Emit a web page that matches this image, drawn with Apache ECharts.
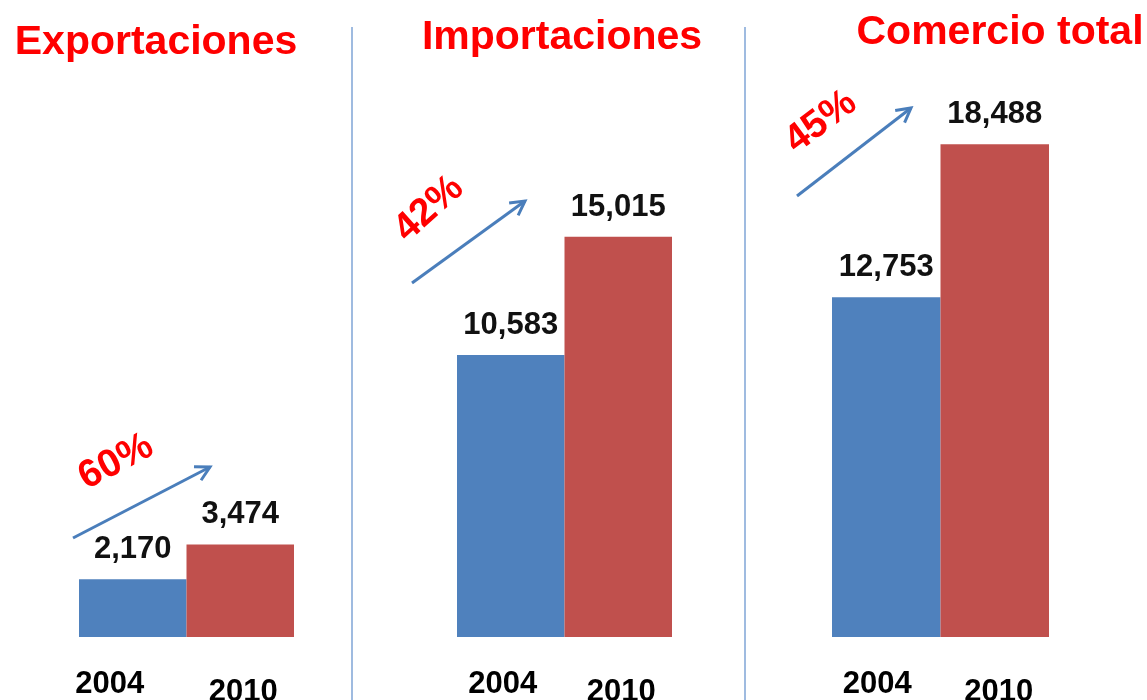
<!DOCTYPE html>
<html>
<head>
<meta charset="utf-8">
<script src="https://cdn.jsdelivr.net/npm/echarts@6/dist/echarts.min.js"></script>
<style>
  html, body { margin: 0; padding: 0; background: #fff; }
  #chart { width: 1147px; height: 700px; }
</style>
</head>
<body>
<div id="chart"></div>
<script>
const years = ['2004', '2010'];
const titles = ['Exportaciones', 'Importaciones', 'Comercio total'];
const exportaciones = [2170, 3474];
const importaciones = [10583, 15015];
const comercioTotal = [12753, 18488];
const growth = ['60%', '42%', '45%'];

const panelValues = [exportaciones, importaciones, comercioTotal];
const barColors = ['#4f81bd', '#c0504d'];

// layout of the three panels (pixels)
const panels = [
    { left: 79, width: 215, titleX: 151, titleTop: 17, yearShift: [-23, 3] },
    { left: 457, width: 215, titleX: 557, titleTop: 12, yearShift: [-8, 3] },
    { left: 832, width: 217, titleX: 995, titleTop: 7, yearShift: [-9, 4] }
];
const arrows = [
    { from: [73, 538], to: [210, 467], text: [116, 462], rot: 28 },
    { from: [412, 283], to: [525, 201], text: [429, 209], rot: 42 },
    { from: [797, 196], to: [911, 108], text: [821, 122], rot: 37 }
];

const numFont = 'Liberation Sans';

var grids = [], xAxes = [], yAxes = [], series = [], titleOpts = [];
panels.forEach((p, i) => {
    grids.push({
        left: p.left, width: p.width, top: 104, height: 533,
        containLabel: false, outerBoundsMode: 'none'
    });
    xAxes.push({
        type: 'category',
        gridIndex: i,
        data: years.map((y, k) => ({
            value: y,
            textStyle: {
                padding: p.yearShift[k] < 0 ? [0, -2 * p.yearShift[k], 0, 0] : [k ? 8 : 0, 0, 0, 2 * p.yearShift[k]]
            }
        })),
        axisLine: { show: false },
        axisTick: { show: false },
        axisLabel: {
            margin: 32,
            color: '#000',
            fontFamily: numFont,
            fontWeight: 'bold',
            fontSize: 31
        }
    });
    yAxes.push({
        type: 'value',
        gridIndex: i,
        min: 0,
        max: 20000,
        show: false,
        splitLine: { show: false }
    });
    series.push({
        type: 'bar',
        xAxisIndex: i,
        yAxisIndex: i,
        barWidth: '100%',
        data: panelValues[i].map((v, k) => ({ value: v, itemStyle: { color: barColors[k] } })),
        label: {
            show: true,
            position: 'top',
            distance: 14,
            color: '#111',
            fontFamily: numFont,
            fontWeight: 'bold',
            fontSize: 31,
            formatter: prm => prm.value.toLocaleString('en-US')
        }
    });
    titleOpts.push({
        text: titles[i],
        left: p.titleX,
        top: p.titleTop,
        textAlign: 'center',
        textStyle: {
            color: '#ff0000',
            fontFamily: numFont,
            fontWeight: 'bold',
            fontSize: 41
        }
    });
});

var graphics = [];
// divider lines
[352, 745].forEach(x => {
    graphics.push({
        type: 'line',
        shape: { x1: x, y1: 27, x2: x, y2: 700 },
        style: { stroke: '#7fa4d6', lineWidth: 1.5 }
    });
});
// growth arrows and percentages
arrows.forEach((a, i) => {
    var dx = a.to[0] - a.from[0], dy = a.to[1] - a.from[1];
    var ang = Math.atan2(dy, dx), head = 16, spread = 0.5;
    var h1 = [a.to[0] - head * Math.cos(ang - spread), a.to[1] - head * Math.sin(ang - spread)];
    var h2 = [a.to[0] - head * Math.cos(ang + spread), a.to[1] - head * Math.sin(ang + spread)];
    graphics.push({
        type: 'polyline',
        shape: { points: [a.from, a.to] },
        style: { stroke: '#4a7ebb', lineWidth: 3, fill: null }
    });
    graphics.push({
        type: 'polyline',
        shape: { points: [h1, a.to, h2] },
        style: { stroke: '#4a7ebb', lineWidth: 3, fill: null, lineJoin: 'miter' }
    });
    graphics.push({
        type: 'text',
        x: a.text[0],
        y: a.text[1],
        rotation: a.rot * Math.PI / 180,
        style: {
            text: growth[i],
            align: 'center',
            verticalAlign: 'middle',
            fill: '#ff0000',
            font: 'bold 39px "Liberation Sans"'
        }
    });
});

var chart = echarts.init(document.getElementById('chart'), null, { renderer: 'canvas' });
chart.setOption({
    animation: false,
    backgroundColor: '#fff',
    title: titleOpts,
    grid: grids,
    xAxis: xAxes,
    yAxis: yAxes,
    series: series,
    graphic: graphics
});
</script>
</body>
</html>
